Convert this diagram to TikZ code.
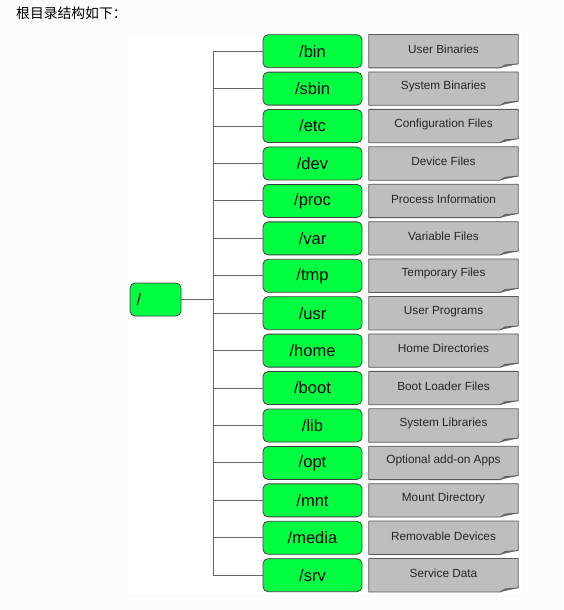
\documentclass[tikz,border=0pt]{standalone}
\usepackage{fontspec}
\setmainfont{Liberation Sans}
\newfontfamily\cjk{Noto Sans CJK SC}
\begin{document}
\begin{tikzpicture}[x=1pt,y=-1pt,
  dirbox/.style={draw=black!75, fill=dirgreen, rounded corners=5pt, line width=0.8pt,
    minimum width=99pt, minimum height=33pt, inner sep=0pt, font=\fontsize{16.5}{18}\selectfont},
  notebox/.style={minimum width=149pt, minimum height=33pt, inner sep=0pt},
  notetext/.style={font=\fontsize{11.8}{13}\selectfont, text=black!85},
  branch/.style={draw=black!60, line width=0.9pt}]
\definecolor{dirgreen}{RGB}{0,255,64}
\definecolor{notegray}{RGB}{190,190,190}
\definecolor{foldgray}{RGB}{110,110,110}
% page and canvas
\fill[black!1] (0,0) rectangle (563,610);
\fill[white] (128,34) rectangle (522,594);
\useasboundingbox (0,0) rectangle (563,610);
\node[anchor=west, inner sep=0pt, font=\cjk\fontsize{13.8}{15}\selectfont] (title) at (16,13) {根目录结构如下：};
% root directory
\node[dirbox, minimum width=51pt, text width=38pt, align=left] (root) at (155.5,299.5) {/};
\coordinate (jn) at (213,299.5);
\draw[branch] (root.east) -- (jn);
% directories and their descriptions
\foreach \d/\t [count=\i] in {bin/User Binaries, sbin/System Binaries, etc/Configuration Files,
  dev/Device Files, proc/Process Information, var/Variable Files, tmp/Temporary Files,
  usr/User Programs, home/Home Directories, boot/Boot Loader Files, lib/System Libraries,
  opt/Optional add-on Apps, mnt/Mount Directory, media/Removable Devices, srv/Service Data}{
  \pgfmathsetmacro{\yy}{51.2+(\i-1)*37.43}
  \node[notebox] (n\i) at (443.5,\yy) {};
  \fill[notegray] (n\i.north west) -- (n\i.north east) -- ([yshift=4pt]n\i.south east)
     -- ([xshift=-18pt]n\i.south east) -- (n\i.south west) -- cycle;
  \fill[foldgray] ([xshift=-18pt]n\i.south east) -- ([xshift=-13pt,yshift=3pt]n\i.south east)
     -- ([yshift=4pt]n\i.south east) -- cycle;
  \draw[black!65, line width=0.8pt, line join=round] ([xshift=-18pt]n\i.south east) -- (n\i.south west)
     -- (n\i.north west) -- (n\i.north east) -- ([yshift=4pt]n\i.south east)
     -- ([xshift=-13pt,yshift=3pt]n\i.south east) -- ([xshift=-18pt]n\i.south east);
  \node[notetext] at ([yshift=2pt]n\i.center) {\t};
  \node[dirbox] (d\i) at (312.5,\yy) {/\d};
  \draw[branch] (jn |- d\i.west) -- (d\i.west);
}
\draw[branch] (jn |- d1.west) -- (jn |- d15.west);
\end{tikzpicture}
\end{document}
